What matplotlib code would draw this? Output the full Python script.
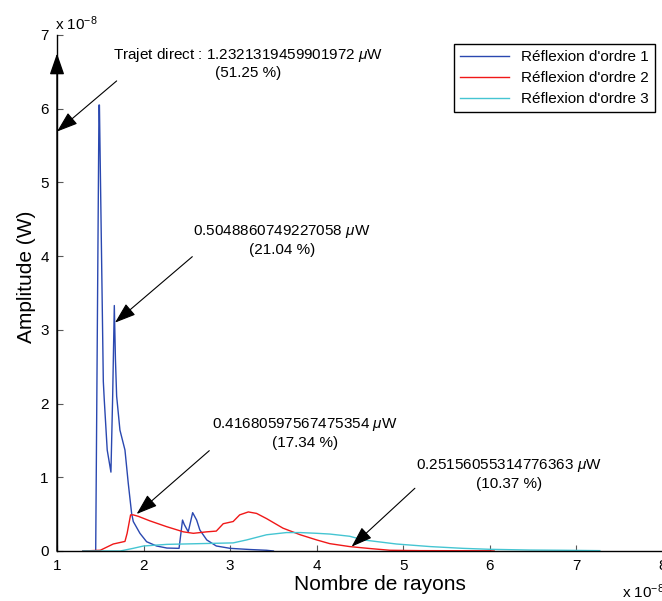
import matplotlib
matplotlib.use("Agg")
import matplotlib.pyplot as plt

plt.rcParams['font.family'] = ['Liberation Sans', 'DejaVu Sans']
plt.rcParams['mathtext.fontset'] = 'custom'
plt.rcParams['mathtext.it'] = 'Liberation Sans:italic'
plt.rcParams['mathtext.rm'] = 'Liberation Sans'

# amplitudes in units of 1e-8 W, abscissa in units of 1e-8
x1 = [1.30, 1.447, 1.485, 1.49, 1.535, 1.546, 1.58, 1.623, 1.643, 1.662, 1.675,
      1.689, 1.727, 1.785, 1.823, 1.862, 1.881, 1.958, 2.035, 2.15, 2.27, 2.41,
      2.45, 2.47, 2.516, 2.567, 2.613, 2.65, 2.73, 2.84, 3.0, 3.23, 3.42, 3.5]
y1 = [0.0, 0.0, 6.05, 6.05, 2.3, 2.05, 1.37, 1.07, 2.1, 3.33, 2.6,
      2.1, 1.64, 1.37, 0.92, 0.51, 0.40, 0.24, 0.126, 0.068, 0.04, 0.036,
      0.42, 0.36, 0.26, 0.52, 0.42, 0.285, 0.15, 0.068, 0.036, 0.02, 0.01, 0.0]

x2 = [1.30, 1.50, 1.65, 1.785, 1.81, 1.85, 1.881, 1.94, 2.07, 2.267, 2.46, 2.575,
      2.73, 2.84, 2.92, 3.035, 3.11, 3.21, 3.305, 3.42, 3.61, 3.81, 4.0, 4.15,
      4.38, 4.6, 4.845, 5.2, 6.0, 6.05]
y2 = [0.0, 0.01, 0.095, 0.13, 0.24, 0.49, 0.49, 0.47, 0.41, 0.33, 0.26, 0.24,
      0.26, 0.27, 0.37, 0.40, 0.49, 0.53, 0.51, 0.44, 0.31, 0.22, 0.15, 0.10,
      0.06, 0.035, 0.01, 0.005, 0.003, 0.0]

x3 = [1.30, 1.73, 1.88, 2.0, 2.27, 2.46, 3.035, 3.19, 3.42, 3.65, 3.81, 4.0,
      4.15, 4.38, 4.54, 4.92, 5.31, 5.69, 6.0, 6.46, 6.85, 7.27]
y3 = [0.0, 0.0, 0.036, 0.068, 0.09, 0.095, 0.11, 0.15, 0.22, 0.25, 0.25, 0.24,
      0.23, 0.20, 0.15, 0.095, 0.06, 0.036, 0.023, 0.013, 0.01, 0.005]

labels = ["Réflexion d'ordre 1", "Réflexion d'ordre 2", "Réflexion d'ordre 3"]
colors = ['#2a48b0', '#f01818', '#45c5d2']

notes = ["Trajet direct : 1.2321319459901972 $\\mu$W\n(51.25 %)",
         "0.5048860749227058 $\\mu$W\n(21.04 %)",
         "0.41680597567475354 $\\mu$W\n(17.34 %)",
         "0.25156055314776363 $\\mu$W\n(10.37 %)"]
note_xy = [(3.21, 6.62), (3.60, 4.22), (3.86, 1.60), (6.225, 1.045)]
tail_xy = [(1.689, 6.377), (2.563, 3.993), (2.759, 1.361), (5.134, 0.851)]
head_xy = [(1.0, 5.69), (1.670, 3.098), (1.920, 0.502), (4.403, 0.059)]
direct_top = 6.75

fig = plt.figure(figsize=(6.62, 6.01), dpi=100)
ax = fig.add_axes([57/662, 50/601, 606/662, 516/601])

ax.plot(x1, y1, color=colors[0], lw=1.0, label=labels[0])
ax.plot(x2, y2, color=colors[1], lw=1.0, label=labels[1])
ax.plot(x3, y3, color=colors[2], lw=1.0, label=labels[2])

ax.set_xlim(1, 8)
ax.set_ylim(0, 7)
ax.set_xticks(range(1, 9))
ax.set_yticks(range(0, 8))
ax.spines['top'].set_visible(False)
ax.spines['right'].set_visible(False)
ax.spines['left'].set_linewidth(1.0)
ax.spines['bottom'].set_linewidth(1.0)
ax.tick_params(direction='in', length=4, width=0.8, color='0.35',
               labelsize=11, pad=6)

ax.set_xlabel("Nombre de rayons", fontsize=15)
ax.set_ylabel("Amplitude (W)", fontsize=15)
ax.xaxis.set_label_coords((380 - 57) / 606, -(575 - 551) / 516)
ax.yaxis.set_label_coords(-(57 - 36) / 606, (551 - 277) / 516)

fig.text(55/662, 1 - 24/601, "x 10$^{-8}$", fontsize=11, va='center')
fig.text(622/662, 1 - 592/601, "x 10$^{-8}$", fontsize=11, va='center')

arrow = dict(arrowstyle="-|>,head_length=1.3,head_width=0.45",
             color='black', lw=0.8, shrinkA=0, shrinkB=0)
for txt, pos, tail, head in zip(notes, note_xy, tail_xy, head_xy):
    ax.text(pos[0], pos[1], txt, ha='center', va='center', fontsize=11,
            multialignment='center', linespacing=1.25)
    ax.annotate("", xy=head, xytext=tail, arrowprops=arrow)

ax.annotate("", xy=(1.0, direct_top), xytext=(1.0, 0.0),
            arrowprops=dict(arrow, lw=1.0), annotation_clip=False)

leg = ax.legend(loc='upper right', bbox_to_anchor=((655 - 57) / 606, (551 - 44) / 516),
                fontsize=11, handlelength=3.2, labelspacing=0.45,
                fancybox=False, framealpha=1, borderaxespad=0)
leg.get_frame().set_edgecolor('black')
leg.get_frame().set_linewidth(1.0)

fig.savefig("out.png", dpi=100)
